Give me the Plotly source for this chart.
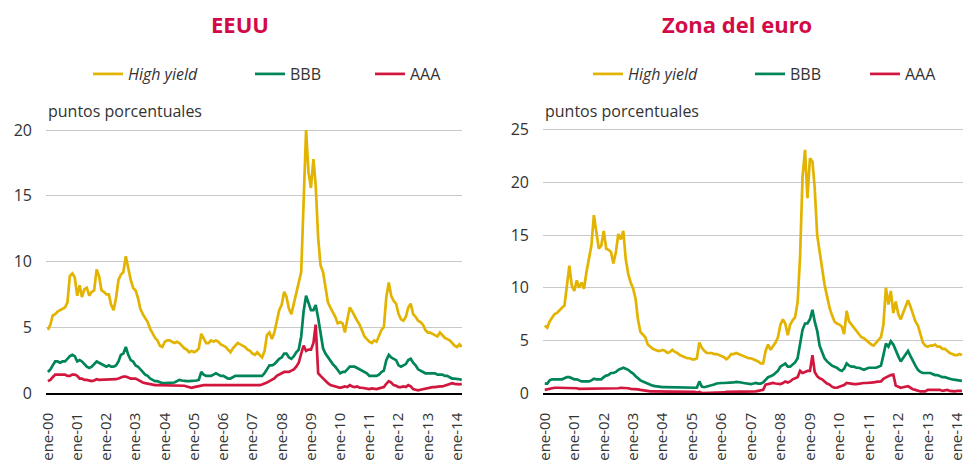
import pandas as pd
import plotly.graph_objects as go

# ---------------- data (monthly, Jan-2000 .. Mar-2014) ----------------
start_month = "2000-01-01"
n_months = 171
tick_years = list(range(2000, 2015))
tick_labels = ["ene-%02d" % (y % 100) for y in tick_years]

series_names = ["<i>High yield</i>", "BBB", "AAA"]
panel_titles = ["EEUU", "Zona del euro"]

us_hy = [
    4.8, 5.2, 5.9, 6.0, 6.2, 6.3, 6.4, 6.5, 6.9, 8.9, 9.1, 8.8,
    7.4, 8.2, 7.3, 7.9, 8.0, 7.4, 7.7, 7.8, 9.4, 8.9, 7.8, 7.7,
    7.5, 7.5, 6.7, 6.3, 7.2, 8.6, 9.0, 9.2, 10.4, 9.5, 8.6, 8.0,
    7.8, 7.2, 6.4, 6.0, 5.7, 5.4, 4.9, 4.5, 4.2, 4.0, 3.6, 3.5,
    3.9, 4.0, 4.0, 3.9, 3.8, 3.9, 3.8, 3.6, 3.4, 3.3, 3.1, 3.2,
    3.1, 3.2, 3.4, 4.5, 4.1, 3.8, 3.8, 4.0, 3.9, 4.0, 3.9, 3.7,
    3.6, 3.5, 3.3, 3.1, 3.4, 3.6, 3.8, 3.7, 3.6, 3.5, 3.3, 3.2,
    3.0, 2.9, 3.1, 2.9, 2.7, 3.2, 4.4, 4.6, 4.1, 4.6, 5.4, 6.3,
    6.7, 7.7, 7.3, 6.4, 6.0, 6.8, 7.6, 8.2, 9.2, 14.5, 20.0, 16.8,
    15.6, 17.8, 15.8, 11.8, 9.7, 9.2, 7.9, 6.9, 6.5, 6.2, 5.8, 5.3,
    5.4, 5.3, 4.6, 5.6, 6.5, 6.2, 5.8, 5.5, 5.2, 4.8, 4.3, 4.1,
    3.9, 3.8, 4.0, 3.9, 4.3, 4.8, 5.0, 7.3, 8.4, 7.4, 7.0, 6.8,
    6.0, 5.6, 5.5, 5.8, 6.5, 6.8, 6.0, 5.8, 5.5, 5.4, 5.2, 4.8,
    4.6, 4.6, 4.5, 4.4, 4.3, 4.6, 4.4, 4.2, 4.1, 4.0, 3.8, 3.6,
    3.5, 3.7, 3.5,
]
us_bbb = [
    1.6, 1.8, 2.1, 2.4, 2.4, 2.3, 2.4, 2.4, 2.6, 2.8, 2.9, 2.8,
    2.4, 2.5, 2.4, 2.2, 2.0, 1.9, 2.0, 2.2, 2.4, 2.3, 2.2, 2.1,
    2.0, 2.1, 2.0, 2.0, 2.1, 2.4, 2.9, 3.0, 3.5, 2.9, 2.5, 2.4,
    2.1, 2.0, 1.8, 1.6, 1.4, 1.3, 1.1, 1.0, 0.9, 0.9, 0.8, 0.75,
    0.75, 0.75, 0.75, 0.75, 0.8, 0.9, 1.0, 0.95, 0.9, 0.9, 0.9, 0.9,
    0.9, 0.95, 1.0, 1.6, 1.4, 1.3, 1.3, 1.3, 1.4, 1.5, 1.4, 1.3,
    1.3, 1.2, 1.1, 1.1, 1.2, 1.3, 1.3, 1.3, 1.3, 1.3, 1.3, 1.25,
    1.25, 1.3, 1.3, 1.3, 1.3, 1.5, 1.8, 2.1, 2.1, 2.2, 2.4, 2.6,
    2.7, 3.0, 3.0, 2.7, 2.6, 2.8, 3.1, 3.3, 4.3, 6.2, 7.4, 6.8,
    6.3, 6.3, 6.7, 5.7, 4.4, 3.4, 3.0, 2.7, 2.4, 2.2, 2.0, 1.7,
    1.5, 1.6, 1.6, 1.8, 2.0, 2.0, 2.0, 1.9, 1.8, 1.7, 1.6, 1.5,
    1.3, 1.3, 1.3, 1.3, 1.4, 1.6, 1.7, 2.5, 2.9, 2.7, 2.6, 2.5,
    2.1, 2.0, 2.1, 2.2, 2.5, 2.6, 2.3, 2.1, 1.8, 1.7, 1.6, 1.5,
    1.5, 1.5, 1.5, 1.5, 1.4, 1.4, 1.4, 1.3, 1.3, 1.2, 1.1, 1.1,
    1.1, 1.05, 1.0,
]
us_aaa = [
    0.9, 1.0, 1.2, 1.4, 1.4, 1.4, 1.4, 1.4, 1.3, 1.3, 1.4, 1.4,
    1.3, 1.1, 1.1, 1.0, 1.0, 0.95, 0.9, 0.95, 1.05, 1.0, 1.0, 1.0,
    1.0, 1.0, 1.0, 1.0, 1.05, 1.1, 1.2, 1.25, 1.25, 1.15, 1.1, 1.1,
    1.1, 1.0, 0.9, 0.8, 0.75, 0.7, 0.7, 0.65, 0.6, 0.6, 0.6, 0.6,
    0.6, 0.6, 0.6, 0.6, 0.6, 0.6, 0.6, 0.6, 0.55, 0.5, 0.45, 0.4,
    0.45, 0.5, 0.5, 0.6, 0.6, 0.6, 0.6, 0.6, 0.6, 0.6, 0.6, 0.6,
    0.6, 0.6, 0.6, 0.6, 0.6, 0.6, 0.6, 0.6, 0.6, 0.6, 0.6, 0.6,
    0.55, 0.6, 0.6, 0.6, 0.65, 0.7, 0.8, 0.9, 1.0, 1.1, 1.3, 1.4,
    1.5, 1.6, 1.6, 1.6, 1.7, 1.8, 2.0, 2.3, 3.0, 3.6, 3.2, 3.3,
    3.3, 3.8, 5.2, 1.5, 1.3, 1.1, 0.9, 0.75, 0.6, 0.55, 0.5, 0.4,
    0.4, 0.45, 0.5, 0.45, 0.6, 0.5, 0.45, 0.5, 0.4, 0.4, 0.35, 0.3,
    0.3, 0.35, 0.3, 0.3, 0.35, 0.4, 0.45, 0.7, 0.9, 0.8, 0.6, 0.55,
    0.45, 0.45, 0.5, 0.45, 0.6, 0.5, 0.3, 0.25, 0.2, 0.25, 0.3, 0.3,
    0.4, 0.4, 0.45, 0.45, 0.5, 0.5, 0.5, 0.55, 0.6, 0.7, 0.75, 0.7,
    0.65, 0.65, 0.7,
]
ea_hy = [
    6.4, 6.2, 6.8, 7.2, 7.5, 7.6, 7.9, 8.1, 8.3, 10.0, 12.1, 10.2,
    9.7, 10.7, 10.0, 10.5, 9.9, 11.5, 12.7, 14.0, 16.9, 15.3, 13.7, 14.0,
    15.4, 13.7, 13.6, 13.4, 12.3, 13.4, 15.1, 14.6, 15.4, 12.7, 11.3, 10.5,
    9.9, 8.9, 7.0, 5.8, 5.6, 5.3, 4.6, 4.4, 4.2, 4.1, 4.0, 4.0,
    4.1, 4.0, 3.8, 3.9, 4.1, 3.9, 3.8, 3.6, 3.5, 3.4, 3.3, 3.3,
    3.2, 3.2, 3.3, 4.8, 4.3, 4.0, 3.8, 3.8, 3.8, 3.7, 3.7, 3.6,
    3.5, 3.4, 3.2, 3.4, 3.7, 3.7, 3.8, 3.7, 3.6, 3.5, 3.4, 3.3,
    3.3, 3.2, 3.1, 3.0, 2.8, 2.8, 4.0, 4.6, 4.1, 4.4, 4.8, 5.3,
    6.5, 7.0, 6.6, 5.5, 6.5, 6.9, 7.2, 8.6, 13.0, 20.5, 23.1, 18.5,
    22.3, 22.0, 19.5, 15.0, 13.3, 11.5, 10.3, 9.2, 8.1, 7.4, 6.8, 6.6,
    6.5, 6.3, 5.6, 7.8, 6.8, 6.5, 6.2, 6.0, 5.6, 5.3, 5.2, 5.0,
    4.8, 4.6, 4.5, 4.8, 5.0, 5.3, 6.5, 10.0, 8.4, 9.7, 7.6, 8.7,
    7.5, 7.0, 7.6, 8.3, 8.8, 8.2, 7.4, 6.8, 6.4, 5.7, 4.8, 4.5,
    4.4, 4.5, 4.5, 4.6, 4.4, 4.4, 4.2, 4.2, 4.0, 3.8, 3.7, 3.6,
    3.6, 3.7, 3.6,
]
ea_bbb = [
    0.9, 0.9, 1.2, 1.3, 1.3, 1.3, 1.3, 1.3, 1.4, 1.5, 1.5, 1.4,
    1.3, 1.3, 1.2, 1.1, 1.1, 1.1, 1.1, 1.2, 1.35, 1.3, 1.3, 1.3,
    1.5, 1.65, 1.7, 1.9, 1.9, 2.0, 2.2, 2.3, 2.4, 2.3, 2.2, 2.0,
    1.85, 1.6, 1.4, 1.2, 1.1, 1.0, 0.85, 0.8, 0.7, 0.65, 0.6, 0.55,
    0.55, 0.55, 0.55, 0.55, 0.55, 0.55, 0.55, 0.55, 0.55, 0.5, 0.5, 0.5,
    0.5, 0.5, 0.5, 1.1, 0.6, 0.55, 0.6, 0.65, 0.7, 0.8, 0.9, 0.95,
    0.95, 0.95, 0.95, 0.95, 1.0, 1.0, 1.05, 1.05, 1.0, 0.95, 0.9, 0.85,
    0.85, 0.9, 0.95, 0.9, 0.9, 1.0, 1.3, 1.5, 1.6, 1.7, 1.9, 2.1,
    2.5, 2.7, 2.8, 2.5, 2.5, 2.7, 2.9, 3.3, 4.5, 6.0, 6.6, 6.6,
    7.0, 7.9, 6.8, 5.9, 4.5, 3.8, 3.3, 3.0, 2.8, 2.6, 2.5, 2.4,
    2.2, 2.1, 2.3, 2.8, 2.6, 2.5, 2.5, 2.4, 2.4, 2.3, 2.2, 2.3,
    2.4, 2.4, 2.4, 2.4, 2.5, 2.6, 3.6, 4.7, 4.4, 4.9, 4.6, 4.0,
    3.5, 3.0, 3.3, 3.6, 4.0, 3.5, 3.0, 2.6, 2.2, 2.0, 1.9, 1.9,
    1.9, 1.9, 1.8, 1.7, 1.7, 1.6, 1.5, 1.5, 1.4, 1.35, 1.3, 1.25,
    1.2, 1.2, 1.15,
]
ea_aaa = [
    0.3, 0.35, 0.45, 0.5, 0.5, 0.5, 0.5, 0.5, 0.5, 0.5, 0.5, 0.45,
    0.45, 0.45, 0.4, 0.4, 0.4, 0.4, 0.4, 0.4, 0.4, 0.4, 0.4, 0.4,
    0.4, 0.4, 0.4, 0.45, 0.45, 0.45, 0.45, 0.5, 0.5, 0.45, 0.45, 0.4,
    0.4, 0.4, 0.35, 0.3, 0.25, 0.2, 0.15, 0.15, 0.15, 0.15, 0.15, 0.15,
    0.15, 0.15, 0.15, 0.15, 0.15, 0.15, 0.15, 0.1, 0.1, 0.1, 0.1, 0.1,
    0.1, 0.1, 0.05, 0.1, 0.0, 0.0, 0.0, 0.05, 0.05, 0.05, 0.05, 0.05,
    0.05, 0.05, 0.1, 0.1, 0.15, 0.15, 0.15, 0.15, 0.15, 0.15, 0.15, 0.15,
    0.15, 0.15, 0.15, 0.2, 0.25, 0.3, 0.8, 0.85, 0.9, 0.95, 0.9, 0.85,
    0.85, 0.95, 1.1, 1.0, 1.1, 1.3, 1.4, 1.5, 2.1, 1.9, 2.0, 2.1,
    2.1, 3.6, 2.0, 1.6, 1.4, 1.3, 1.1, 0.9, 0.8, 0.6, 0.5, 0.5,
    0.6, 0.65, 0.75, 0.95, 0.9, 0.85, 0.85, 0.85, 0.9, 0.9, 0.95, 0.95,
    0.95, 0.95, 1.0, 1.05, 1.05, 1.1, 1.35, 1.5, 1.6, 1.7, 1.75, 0.7,
    0.6, 0.5, 0.55, 0.6, 0.65, 0.5, 0.35, 0.3, 0.2, 0.15, 0.15, 0.15,
    0.3, 0.3, 0.25, 0.25, 0.3, 0.3, 0.2, 0.25, 0.3, 0.2, 0.15, 0.15,
    0.2, 0.2, 0.2,
]

# ---------------- styling ----------------
W, H = 965, 463
FONT = "Open Sans"
TXT = "#333333"
TITLE_RED = "#D20A48"
colors = ["#E2B300", "#00845A", "#D2173F"]
GRID = "#C9C9C9"

dates = pd.date_range(start_month, periods=n_months, freq="MS")
tick_dates = [pd.Timestamp(f"{y}-01-01") for y in tick_years]

fig = go.Figure()

panels = [
    dict(series=[us_hy, us_bbb, us_aaa], xa="x", ya="y",
         legend_x=[128, 290, 410]),
    dict(series=[ea_hy, ea_bbb, ea_aaa], xa="x2", ya="y2",
         legend_x=[628, 790, 905]),
]

leg_idx = 0
legends = {}
for p in panels:
    for name, vals, col, tx in zip(series_names, p["series"], colors, p["legend_x"]):
        leg_idx += 1
        lname = "legend" if leg_idx == 1 else f"legend{leg_idx}"
        fig.add_trace(go.Scatter(
            x=dates, y=vals, name=name, mode="lines",
            line=dict(color=col, width=2.7),
            xaxis=p["xa"], yaxis=p["ya"], legend=lname,
            hoverinfo="skip",
        ))
        legends[lname] = dict(
            x=(tx - 40) / W, xanchor="left", xref="paper",
            y=1 - 74 / H, yanchor="middle", yref="paper",
            orientation="h", bgcolor="rgba(0,0,0,0)", borderwidth=0,
            font=dict(family=FONT, size=16, color=TXT),
        )

ydom = [1 - 393 / H, 1 - 123.5 / H]

common_x = dict(
    type="date", tickmode="array", tickvals=tick_dates, ticktext=tick_labels,
    tickangle=-90, showgrid=False, showline=True, linecolor="#000000",
    linewidth=1.5, ticks="", ticklabelstandoff=12, automargin=False,
    ticklabeloverflow="allow",
    tickfont=dict(family=FONT, size=15, color=TXT), zeroline=False,
)
common_y = dict(
    showgrid=True, gridcolor=GRID, gridwidth=1.4, zeroline=False,
    showline=False, ticks="", ticklabelstandoff=13, automargin=False,
    tickfont=dict(family=FONT, size=16, color=TXT), domain=ydom,
)

fig.update_layout(
    width=W, height=H,
    margin=dict(l=0, r=0, t=0, b=0, autoexpand=False),
    paper_bgcolor="white", plot_bgcolor="white",
    showlegend=True,
    font=dict(family=FONT, color=TXT),
    xaxis=dict(common_x, domain=[46 / W, 462 / W], anchor="y",
               range=["1999-12-08", "2014-03-04"]),
    yaxis=dict(common_y, anchor="x", range=[0, 20.5],
               tickvals=[0, 5, 10, 15, 20]),
    xaxis2=dict(common_x, domain=[543 / W, 963 / W], anchor="y2",
                range=["1999-12-10", "2014-03-14"]),
    yaxis2=dict(common_y, anchor="x2", range=[0, 25.6],
                tickvals=[0, 5, 10, 15, 20, 25]),
    **legends,
)

annotations = [
    dict(text="<b>%s</b>" % panel_titles[0], x=240 / W, y=1 - 24 / H,
         font=dict(family=FONT, size=22, color=TITLE_RED)),
    dict(text="<b>%s</b>" % panel_titles[1], x=737 / W, y=1 - 24 / H,
         font=dict(family=FONT, size=22, color=TITLE_RED)),
    dict(text="puntos porcentuales", x=46 / W, y=1 - 111 / H, xanchor="left",
         font=dict(family=FONT, size=16, color=TXT)),
    dict(text="puntos porcentuales", x=543 / W, y=1 - 111 / H, xanchor="left",
         font=dict(family=FONT, size=16, color=TXT)),
]
for a in annotations:
    a.update(xref="paper", yref="paper", showarrow=False,
             yanchor="middle", xanchor=a.get("xanchor", "center"))
fig.update_layout(annotations=annotations)

fig.write_html(
    "out.html",
    config={"displayModeBar": False},
    post_script="document.body.style.margin='0';document.body.style.overflow='hidden';",
)
